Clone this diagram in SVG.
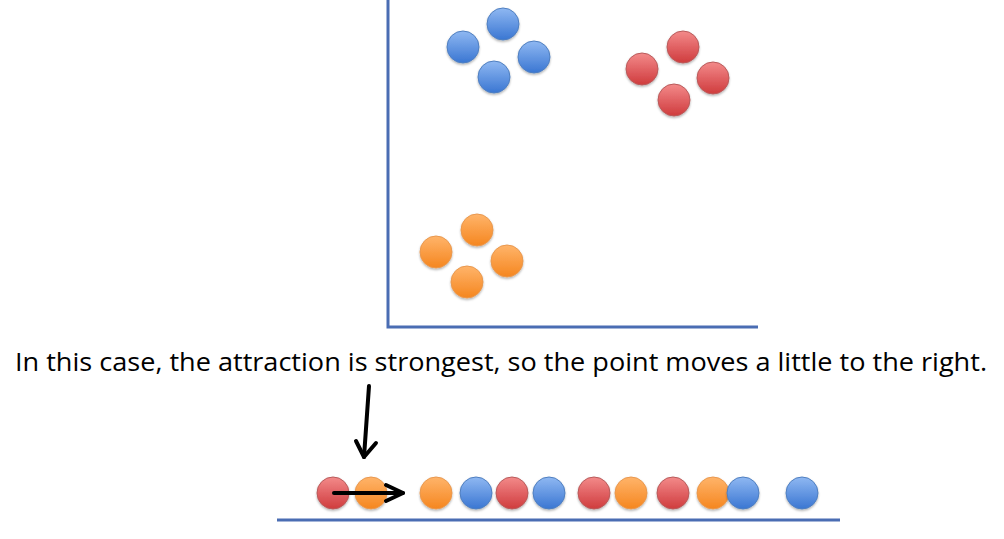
<svg xmlns="http://www.w3.org/2000/svg" width="1004" height="539" viewBox="0 0 1004 539">
<defs>
<linearGradient id="gb" x1="0" y1="0" x2="0" y2="1"><stop offset="0" stop-color="#8fb8f2"/><stop offset="1" stop-color="#3a76d2"/></linearGradient>
<linearGradient id="gr" x1="0" y1="0" x2="0" y2="1"><stop offset="0" stop-color="#f38a8a"/><stop offset="1" stop-color="#cf3b3d"/></linearGradient>
<linearGradient id="go" x1="0" y1="0" x2="0" y2="1"><stop offset="0" stop-color="#ffb46a"/><stop offset="1" stop-color="#f5861f"/></linearGradient>
<filter id="sh" x="-30%" y="-30%" width="160%" height="170%"><feDropShadow dx="0" dy="1.5" stdDeviation="1.2" flood-color="#000" flood-opacity="0.3"/></filter>
</defs>
<style>
.b{fill:url(#gb);stroke:#4f7fc0;stroke-width:1}
.r{fill:url(#gr);stroke:#b95a5a;stroke-width:1}
.o{fill:url(#go);stroke:#e9984e;stroke-width:1}
circle{filter:url(#sh)}
.ax{stroke:#4a6db3;stroke-width:3;fill:none}
.ar{stroke:#000;stroke-width:4;fill:none;stroke-linecap:round;stroke-linejoin:round}
text{font-family:"Open Sans","Liberation Sans",sans-serif;font-size:26px;fill:#000}
</style>
<g id="axes">
<polyline class="ax" points="388,0 388,327 758,327"/>
</g>
<g id="blue-cluster">
<circle class="b" cx="503" cy="24" r="16"/>
<circle class="b" cx="463" cy="47" r="16"/>
<circle class="b" cx="534" cy="57" r="16"/>
<circle class="b" cx="494" cy="77" r="16"/>
</g>
<g id="red-cluster">
<circle class="r" cx="683" cy="47" r="16"/>
<circle class="r" cx="642" cy="69" r="16"/>
<circle class="r" cx="713" cy="78" r="16"/>
<circle class="r" cx="674" cy="100" r="16"/>
</g>
<g id="orange-cluster">
<circle class="o" cx="477" cy="230" r="16"/>
<circle class="o" cx="436" cy="252" r="16"/>
<circle class="o" cx="507" cy="261" r="16"/>
<circle class="o" cx="467" cy="282" r="16"/>
</g>
<g id="caption">
<text x="501" y="371" text-anchor="middle" textLength="972" lengthAdjust="spacingAndGlyphs">In this case, the attraction is strongest, so the point moves a little to the right.</text>
</g>
<g id="baseline">
<line class="ax" x1="277" y1="520" x2="840" y2="520"/>
</g>
<g id="row">
<circle class="r" cx="333" cy="493" r="16"/>
<circle class="o" cx="371" cy="493" r="16"/>
<circle class="o" cx="436" cy="493" r="16"/>
<circle class="b" cx="476" cy="493" r="16"/>
<circle class="r" cx="512" cy="493" r="16"/>
<circle class="b" cx="549" cy="493" r="16"/>
<circle class="r" cx="594" cy="493" r="16"/>
<circle class="o" cx="631" cy="493" r="16"/>
<circle class="r" cx="673" cy="493" r="16"/>
<circle class="o" cx="713" cy="493" r="16"/>
<circle class="b" cx="743" cy="493" r="16"/>
<circle class="b" cx="802" cy="493" r="16"/>
</g>
<g id="connectors">
<line class="ar" x1="369" y1="386" x2="364" y2="457"/>
<polyline class="ar" points="356,441 364,457 376,443"/>
<line class="ar" x1="334" y1="493" x2="403" y2="493"/>
<polyline class="ar" points="386,485 403,493 386,501"/>
</g>
</svg>
